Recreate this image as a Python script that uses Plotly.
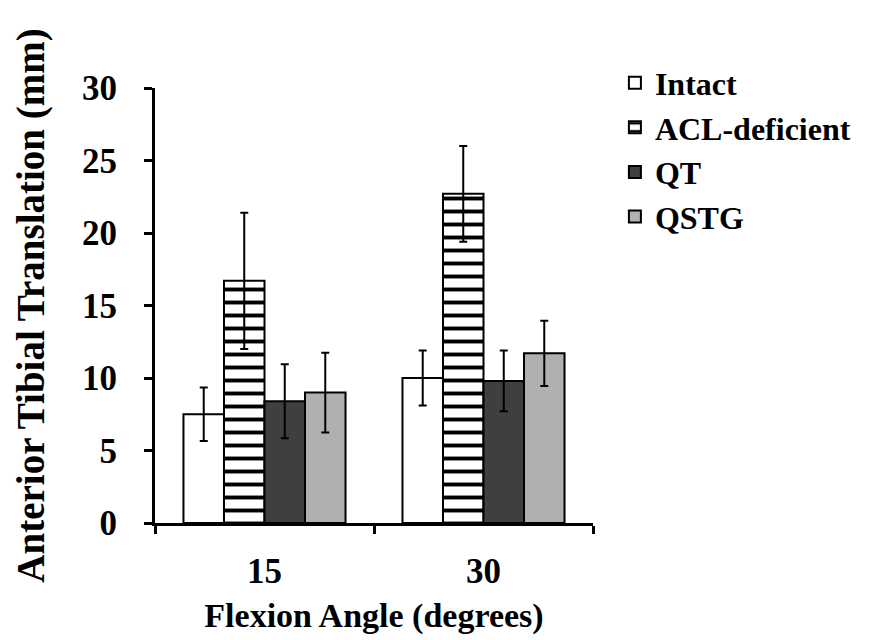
import plotly.graph_objects as go

categories = ["15", "30"]
series_names = ["Intact", "ACL-deficient", "QT", "QSTG"]
intact = [7.5, 10.0]
intact_err = [1.85, 1.9]
acl = [16.7, 22.7]
acl_err = [4.7, 3.3]
qt = [8.4, 9.8]
qt_err = [2.55, 2.1]
qstg = [9.0, 11.7]
qstg_err = [2.75, 2.25]
y_ticks = [0, 5, 10, 15, 20, 25, 30]

FONT = "Liberation Serif"
values = [intact, acl, qt, qstg]
errors = [intact_err, acl_err, qt_err, qstg_err]
fills = ["white", "white", "#3f3f3f", "#b0b0b0"]
patterns = ["", "-", "", ""]

fig = go.Figure()
for name, v, e, c, p in zip(series_names, values, errors, fills, patterns):
    fig.add_trace(go.Bar(
        name=name, x=categories, y=v,
        marker=dict(color=c, line=dict(color="black", width=2),
                    pattern=dict(shape=p, fgcolor="black", bgcolor="white",
                                 fgopacity=1, size=13, solidity=0.3) if p else None),
        error_y=dict(type="data", array=e, visible=True, color="black",
                     thickness=2, width=4),
    ))

fig.update_layout(
    width=882, height=632,
    margin=dict(l=147, r=297, t=80, b=117),
    plot_bgcolor="white", paper_bgcolor="white",
    barmode="group", bargap=0.26, bargroupgap=0,
    font=dict(family=FONT, color="black", size=34, weight="bold"),
    legend=dict(x=1.05, y=1.075, xanchor="left", yanchor="top",
                font=dict(family=FONT, size=32, weight="bold"),
                tracegroupgap=0, itemwidth=30, bgcolor="rgba(0,0,0,0)"),
    xaxis=dict(
        range=[-0.5, 1.5], showline=True, linecolor="black", linewidth=3,
        ticks="outside", tickson="boundaries", ticklen=8, tickwidth=3,
        tickcolor="black", ticklabelstandoff=15,
        tickfont=dict(family=FONT, size=35, weight="bold"),
        title=dict(text="Flexion Angle (degrees)", standoff=14,
                   font=dict(family=FONT, size=34, weight="bold")),
    ),
    yaxis=dict(
        range=[0, 30], tickvals=y_ticks, showline=True, linecolor="black",
        linewidth=3, ticks="outside", ticklen=8, tickwidth=3, tickcolor="black",
        showgrid=False, zeroline=False, ticklabelstandoff=20,
        tickfont=dict(family=FONT, size=35, weight="bold"),
        title=dict(text="Anterior Tibial Translation (mm)", standoff=26,
                   font=dict(family=FONT, size=39, weight="bold")),
    ),
)
fig.write_html("out.html")
